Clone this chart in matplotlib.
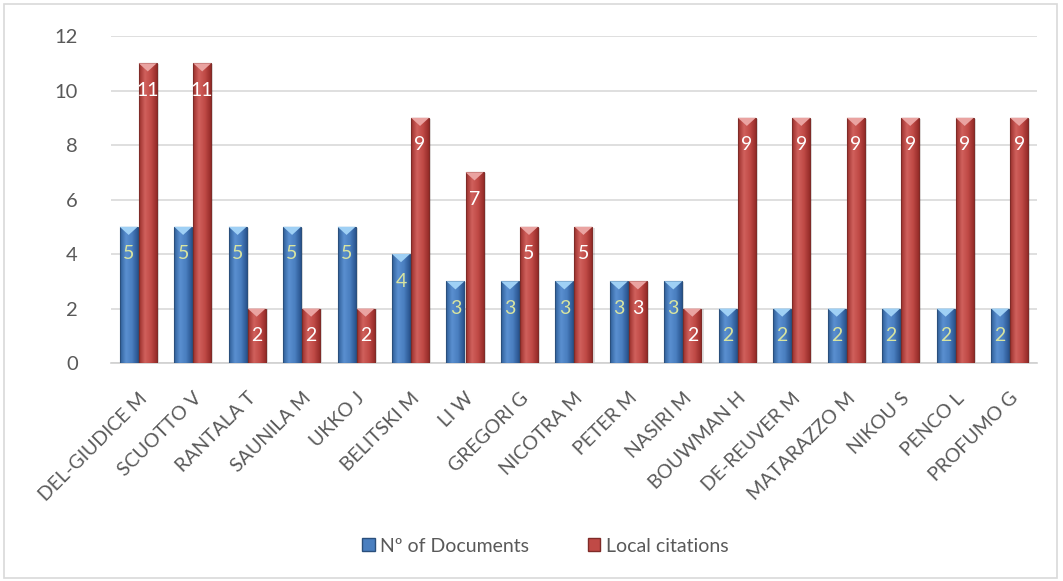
import numpy as np
import matplotlib.pyplot as plt
from matplotlib.patches import Polygon, Rectangle
from matplotlib.colors import LinearSegmentedColormap

authors = ["DEL-GIUDICE M", "SCUOTTO V", "RANTALA T", "SAUNILA M", "UKKO J",
           "BELITSKI M", "LI W", "GREGORI G", "NICOTRA M", "PETER M", "NASIRI M",
           "BOUWMAN H", "DE-REUVER M", "MATARAZZO M", "NIKOU S", "PENCO L",
           "PROFUMO G"]
documents = [5, 5, 5, 5, 5, 4, 3, 3, 3, 3, 3, 2, 2, 2, 2, 2, 2]
citations = [11, 11, 2, 2, 2, 9, 7, 5, 5, 3, 2, 9, 9, 9, 9, 9, 9]

plt.rcParams['font.family'] = ['Lato', 'DejaVu Sans']
text_gray = '#595959'

fig = plt.figure(figsize=(10.63, 5.81), dpi=100)
ax = fig.add_axes([0.1044, 0.3752, 0.871, 0.5628])

# light border around the chart area
fig.patches.append(Rectangle((0.004, 0.005), 0.990, 0.988, transform=fig.transFigure,
                             fill=False, edgecolor='#d9d9d9', linewidth=1.2))

x = np.arange(len(authors))
w = 0.33
gap = 0.02

blue_cmap = LinearSegmentedColormap.from_list('b', ['#2f5f98', '#5a8fd0', '#4a7fc0', '#2a5590'])
red_cmap = LinearSegmentedColormap.from_list('r', ['#9a2f2c', '#d0605c', '#c04a46', '#962c29'])
grad = np.linspace(0, 1, 64).reshape(1, -1)


def draw_bars(xs, vals, cmap, edge, cap, label_color):
    for xi, v in zip(xs, vals):
        left = xi - w / 2
        # soft shadow
        ax.add_patch(Rectangle((left + 0.04, 0), w, v - 0.03, facecolor='#000000',
                               alpha=0.12, edgecolor='none', zorder=2))
        rect = Rectangle((left, 0), w, v, facecolor='none', edgecolor=edge,
                         linewidth=0.8, zorder=4)
        ax.add_patch(rect)
        im = ax.imshow(grad, cmap=cmap, aspect='auto', extent=(left, left + w, 0, v),
                       zorder=3, interpolation='bilinear')
        im.set_clip_path(rect)
        # bevelled top
        ax.add_patch(Polygon([(left, v), (left + w, v), (xi, v - 0.3)], closed=True,
                             facecolor=cap, edgecolor='none', zorder=5))
        ax.annotate(str(v), (xi, v), xytext=(0, -27), textcoords='offset pixels',
                    ha='center', va='center', fontsize=14, color=label_color, zorder=6)


draw_bars(x - w / 2 - gap / 2, documents, blue_cmap, '#2a4f7c', '#9fd0f5', '#d8e4a0')
draw_bars(x + w / 2 + gap / 2, citations, red_cmap, '#7f2b28', '#eaa3a1', 'white')

ax.set_xlim(-0.5, len(authors) - 0.5)
ax.set_ylim(0, 12)
ax.set_yticks(range(0, 13, 2))
ax.set_xticks(x)
ax.set_xticklabels(authors, rotation=45, ha='right', rotation_mode='anchor')
ax.tick_params(axis='x', length=0, pad=19, labelsize=14, labelcolor=text_gray)
ax.tick_params(axis='y', length=0, pad=24, labelsize=14.5, labelcolor=text_gray)
ax.grid(axis='y', color='#d9d9d9', linewidth=1.2, zorder=0)
ax.set_axisbelow(True)
for s in ['top', 'right', 'left']:
    ax.spines[s].set_visible(False)
ax.spines['bottom'].set_color('#d0d0d0')
ax.spines['bottom'].set_linewidth(1.2)

h1 = Rectangle((0, 0), 1, 1, facecolor='#4a7fc0', edgecolor='#2a4f7c')
h2 = Rectangle((0, 0), 1, 1, facecolor='#c04a46', edgecolor='#7f2b28')
fig.legend([h1, h2], ['Nº of Documents', 'Local citations'], loc='center',
           bbox_to_anchor=(0.513, 0.06), ncol=2, frameon=False, fontsize=14,
           labelcolor=text_gray, handlelength=0.65, handleheight=0.65,
           handletextpad=0.3, columnspacing=3)

fig.savefig('out.png', dpi=100)
